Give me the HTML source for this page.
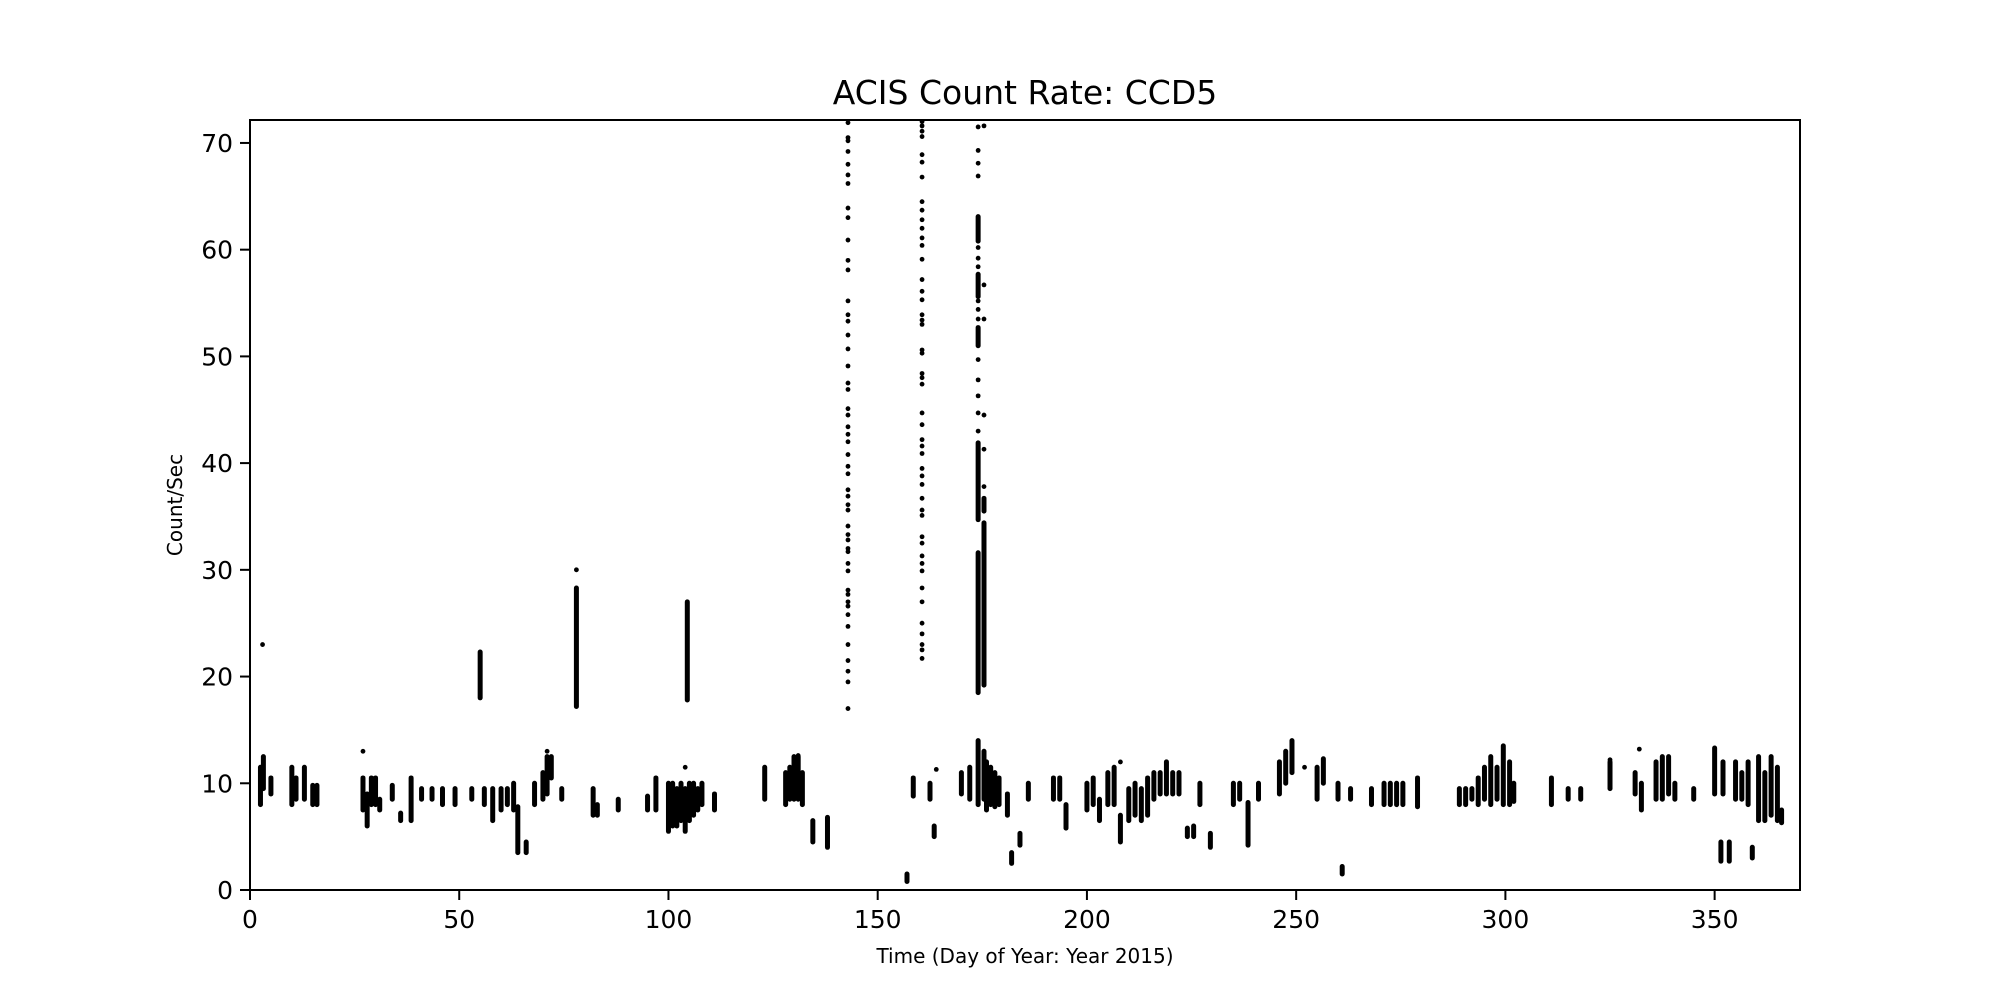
<!DOCTYPE html>
<html><head><meta charset="utf-8"><style>
html,body{margin:0;padding:0;background:#fff;}
svg text{font-family:"DejaVu Sans","Liberation Sans",sans-serif;fill:#000;}
</style></head><body>
<svg id="chart" width="2000" height="1000" viewBox="0 0 2000 1000" xmlns="http://www.w3.org/2000/svg">
<rect width="2000" height="1000" fill="#fff"/>
<text x="1025" y="104" font-size="33" text-anchor="middle">ACIS Count Rate: CCD5</text>
<g id="marks"></g>
<g id="axes"></g>
<text x="1025" y="978" font-size="20" text-anchor="middle" transform="translate(0,-15)">Time (Day of Year: Year 2015)</text>
<text x="0" y="0" font-size="20" text-anchor="middle" transform="translate(182,505) rotate(-90)">Count/Sec</text>
</svg>
<script>
const xTicks = [0, 50, 100, 150, 200, 250, 300, 350];
const yTicks = [0, 10, 20, 30, 40, 50, 60, 70];
// quiescent streaks: day, low, high (10 per line)
const rangeDays = [
 2.5,3.2,5,10,11,13,15,16,27,28,
 29,30,31,34,36,38.5,41,43.5,46,49,
 53,56,58,60,61.5,63,64,66,68,70,
 71,72,74.5,82,83,88,95,97,100,101,
 102,103,104,105,106,107,108,111,123,128,
 129,130,131,132,134.5,138,157,158.5,162.5,163.5,
 170,172,174,175.4,176,177,178,179,181,182,
 184,186,192,193.5,195,200,201.5,203,205,206.5,
 208,210,211.5,213,214.5,216,217.5,219,220.5,222,
 224,225.5,227,229.5,235,236.5,238.5,241,246,247.5,
 249,255,256.5,260,261,263,268,271,272.5,274,
 275.5,279,289,290.5,292,293.5,295,296.5,298,299.5,
 301,302,311,315,318,325,331,332.5,336,337.5,
 339,340.5,345,350,351.5,352,353.5,355,356.5,358,
 359,360.5,362,363.5,365,366];
const rangeLow = [
 8,9.5,9,8,8.5,8.5,8,8,7.5,6,
 8,8,7.5,8.5,6.5,6.5,8.5,8.5,8,8,
 8.5,8,6.5,7.5,8,7.5,3.5,3.5,8,8.5,
 9,10.5,8.5,7,7,7.5,7.5,7.5,5.5,6,
 6,6.5,5.5,6.5,7,7.5,8,7.5,8.5,8,
 8.5,8.5,8.5,8,4.5,4,0.8,8.8,8.5,5,
 9,8.5,8,8.5,7.5,8,7.8,8,7,2.5,
 4.2,8.5,8.5,8.5,5.8,7.5,8,6.5,8,8,
 4.5,6.5,7,6.5,7,8.5,9,9,9,9,
 5,5,8,4,8,8.5,4.2,8.5,9,10,
 11,8.5,10,8.5,1.5,8.5,8,8,8,8,
 8,7.8,8,8,8.5,8,8.5,8,8.5,8,
 8,8.3,8,8.5,8.5,9.5,9,7.5,8.5,8.5,
 9,8.5,8.5,9,2.7,9,2.7,8.5,8.5,8,
 3,6.5,6.5,7,6.5,6.3];
const rangeHigh = [
 11.5,12.5,10.5,11.5,10.5,11.5,9.8,9.8,10.5,9,
 10.5,10.5,8.5,9.8,7.2,10.5,9.5,9.5,9.5,9.5,
 9.5,9.5,9.5,9.5,9.5,10,7.8,4.5,10,11,
 12.5,12.5,9.5,9.5,8,8.5,8.8,10.5,10,10,
 9.5,10,9.5,10,10,9.5,10,9,11.5,11,
 11.5,12.5,12.5,11,6.5,6.8,1.5,10.5,10,6,
 11,11.5,14,13,12,11.5,11,10.5,9,3.5,
 5.3,10,10.5,10.5,8,10,10.5,8.5,11,11.5,
 7,9.5,10,9.5,10.5,11,11,12,11,11,
 5.8,6,10,5.3,10,10,8.2,10,12,13,
 14,11.5,12.3,10,2.2,9.5,9.5,10,10,10,
 10,10.5,9.5,9.5,9.5,10.5,11.5,12.5,11.5,13.5,
 12,10,10.5,9.5,9.5,12,11,10,12,12.5,
 12.5,10,9.5,13.3,4.5,12,4.5,12,11,12,
 4,12.5,11,12.5,11.5,7.5];
// flare dense runs: day, low, high
const flareDays = [55, 78, 104.5, 174.0, 174.0, 174.0, 174.0, 174.0, 175.4, 175.4];
const flareLow  = [18, 17.2, 17.8, 18.5, 34.7, 51, 55.6, 60.8, 19.2, 35.5];
const flareHigh = [22.3, 28.3, 27, 31.6, 41.9, 52.7, 57.7, 63.1, 34.4, 36.7];
// isolated points
const pointDays   = [3, 27, 71, 78, 104, 131, 164, 208, 252, 325, 332];
const pointValues = [23, 13, 13, 30, 11.5, 12.6, 11.3, 12, 11.5, 12.2, 13.2];
// flare spikes: one day per spike with its sparse values
const spikeDays = [142.9, 160.6, 174.0, 175.4];
const spike1Values = [71.9,70.5,70.2,69.2,68,67,66.2,63.9,63,60.9,59,58.1,55.2,53.9,53.3,52,50.7,49.1,47.5,46.9,45.1,44.5,43.4,42.7,42,40.8,39.7,39,37.5,36.9,36.1,35.6,34.1,33.3,32.8,32,31.7,30.6,29.9,28.1,27.7,27,26.6,25.8,24.7,23,21.5,20.5,19.5,17];
const spike2Values = [72,71.6,71.1,70.6,68.9,68.2,66.8,64.5,63.7,62.8,62,61.1,60.4,59.1,57.2,56.1,55.3,53.9,53.4,53,50.6,50.3,48.4,48,47.4,44.7,43.6,42.2,41.6,40.9,39.5,38.8,38,36.7,35.6,35.1,33.1,32.5,31.3,30.6,29.9,28.3,27,25,24,23,22.5,21.7];
const spike3Values = [71.5,69.3,68.1,66.9,60.2,59.2,58.4,55.2,54.4,53.5,49.7,47.8,46.3,44.7,43];
const spike4Values = [71.6,56.7,53.5,44.5,41.3,37.8];
const spikeValues = [spike1Values, spike2Values, spike3Values, spike4Values];

const X0 = 250, X1 = 1800, Y0 = 890, Y1 = 120;
const XMAX = 370.4, YMAX = 72.15;
function sx(d){ return X0 + d / XMAX * (X1 - X0); }
function sy(v){ return Y0 - v / YMAX * (Y0 - Y1); }
const NS = 'http://www.w3.org/2000/svg';
const marks = document.getElementById('marks');
const axes = document.getElementById('axes');
function mk(tag, attrs, parent){
  const e = document.createElementNS(NS, tag);
  for (const k in attrs) e.setAttribute(k, attrs[k]);
  parent.appendChild(e);
  return e;
}
function drawRange(d, lo, hi){
  const l = mk('line', {x1: sx(d), x2: sx(d), y1: sy(lo), y2: sy(hi), stroke: '#000', 'stroke-width': 5, 'stroke-linecap': 'round'}, marks);
  
  
}
function drawPoint(d, v){
  const c = mk('circle', {cx: sx(d), cy: sy(v), r: 2.4, fill: '#000'}, marks);
  
  
}
const nR = Math.min(rangeDays.length, rangeLow.length, rangeHigh.length);
for (let i = 0; i < nR; i++) drawRange(rangeDays[i], rangeLow[i], rangeHigh[i]);
for (let i = 0; i < flareDays.length; i++) drawRange(flareDays[i], flareLow[i], flareHigh[i]);
for (let i = 0; i < pointDays.length; i++) drawPoint(pointDays[i], pointValues[i]);
for (let s = 0; s < spikeDays.length; s++) {
  spikeValues[s].forEach(function(v){ drawPoint(spikeDays[s], v); });
}
const frame = mk('rect', {x: X0, y: Y1, width: X1 - X0, height: Y0 - Y1, fill: 'none', stroke: '#000', 'stroke-width': 2}, axes);


xTicks.forEach(function(t){
  const tk = mk('line', {x1: sx(t), x2: sx(t), y1: Y0, y2: Y0 + 10, stroke: '#000', 'stroke-width': 2}, axes);
  
  
  const lb = mk('text', {x: sx(t), y: Y0 + 38, 'font-size': 25, 'text-anchor': 'middle'}, axes);
  lb.textContent = t;
  
  
});
yTicks.forEach(function(t){
  const tk = mk('line', {x1: X0 - 10, x2: X0, y1: sy(t), y2: sy(t), stroke: '#000', 'stroke-width': 2}, axes);
  
  
  const lb = mk('text', {x: X0 - 17, y: sy(t) + 9, 'font-size': 25, 'text-anchor': 'end'}, axes);
  lb.textContent = t;
  
  
});
</script>
</body></html>
